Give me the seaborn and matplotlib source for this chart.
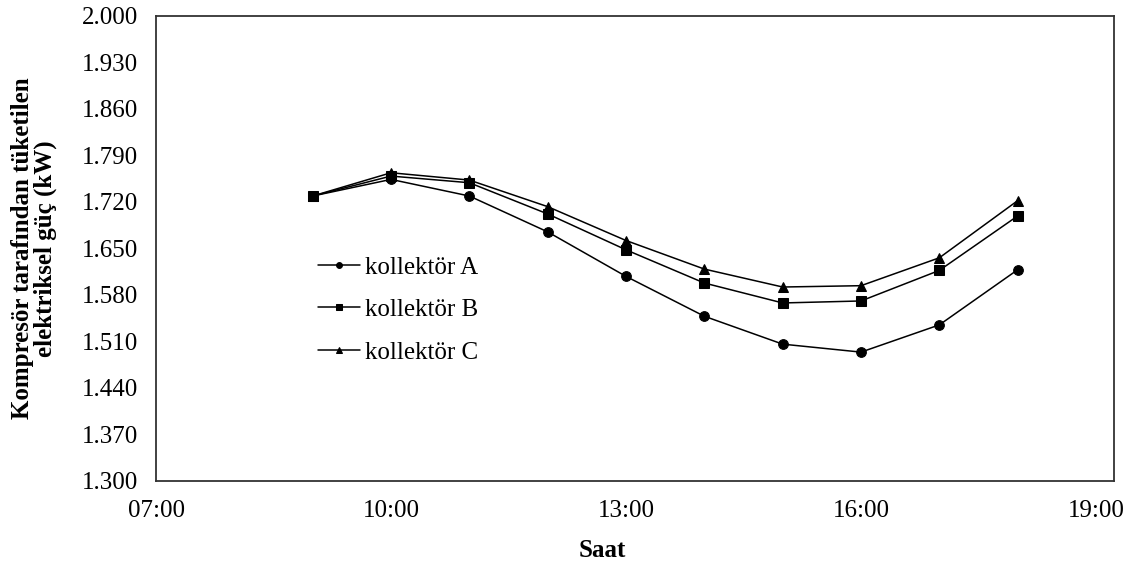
import matplotlib
matplotlib.use("Agg")
import matplotlib.pyplot as plt
from matplotlib.ticker import FuncFormatter
import numpy as np
import pandas as pd
import seaborn as sns

# hours of the day
saat = [9, 10, 11, 12, 13, 14, 15, 16, 17, 18]
# compressor electrical power (kW)
kollektor_a = [1.729, 1.754, 1.729, 1.675, 1.608, 1.548, 1.506, 1.494, 1.535, 1.618]
kollektor_b = [1.729, 1.759, 1.749, 1.702, 1.648, 1.598, 1.568, 1.571, 1.617, 1.699]
kollektor_c = [1.729, 1.764, 1.753, 1.713, 1.662, 1.619, 1.592, 1.594, 1.636, 1.722]
seri_adlari = ["kollektör A", "kollektör B", "kollektör C"]
x_ticks = [7, 10, 13, 16, 19]

df = pd.DataFrame({
    "saat": saat * 3,
    "guc": kollektor_a + kollektor_b + kollektor_c,
    "seri": [s for s in seri_adlari for _ in saat],
})

sns.set_style("white")
plt.rcParams["font.family"] = ["Liberation Serif", "DejaVu Serif"]
plt.rcParams["text.color"] = "black"
plt.rcParams["axes.labelcolor"] = "black"
plt.rcParams["xtick.color"] = "black"
plt.rcParams["ytick.color"] = "black"

fig = plt.figure(figsize=(11.48, 5.67), dpi=100)
ax = fig.add_axes([0.1359, 0.1517, 0.8345, 0.8201])

sns.lineplot(data=df, x="saat", y="guc", hue="seri", style="seri",
             markers=["o", "s", "^"], dashes=False,
             palette=["black", "black", "black"], ax=ax,
             linewidth=1.1, markersize=7, markeredgecolor="black")

ax.set_xlim(7, 19.23)
ax.set_ylim(1.3, 2.0)
ax.set_xticks(x_ticks)
ax.set_yticks(np.linspace(1.3, 2.0, 11))
ax.xaxis.set_major_formatter(FuncFormatter(lambda v, p: "%02d:00" % int(round(v))))
ax.yaxis.set_major_formatter(FuncFormatter(lambda v, p: "%.3f" % v))
ax.tick_params(axis="both", length=0, labelsize=18)
ax.tick_params(axis="y", pad=13)
ax.tick_params(axis="x", pad=14)

for side in ax.spines.values():
    side.set_color("#333333")
    side.set_linewidth(1.3)

ax.set_xlabel("Saat", fontsize=18, fontweight="bold")
ax.set_ylabel("Kompresör tarafından tüketilen\nelektriksel güç (kW)", fontsize=18,
              fontweight="bold", linespacing=1.0)
ax.xaxis.set_label_coords(0.466, -0.125)
ax.yaxis.set_label_coords(-0.103, 0.5)

handles, labels = ax.get_legend_handles_labels()
ax.legend(handles, labels, loc="center left", bbox_to_anchor=(0.169, 0.368),
          frameon=False, fontsize=18, handlelength=1.7, handletextpad=0.2,
          labelspacing=0.8, borderpad=0, borderaxespad=0, markerscale=0.6)

fig.savefig("out.png", dpi=100)
